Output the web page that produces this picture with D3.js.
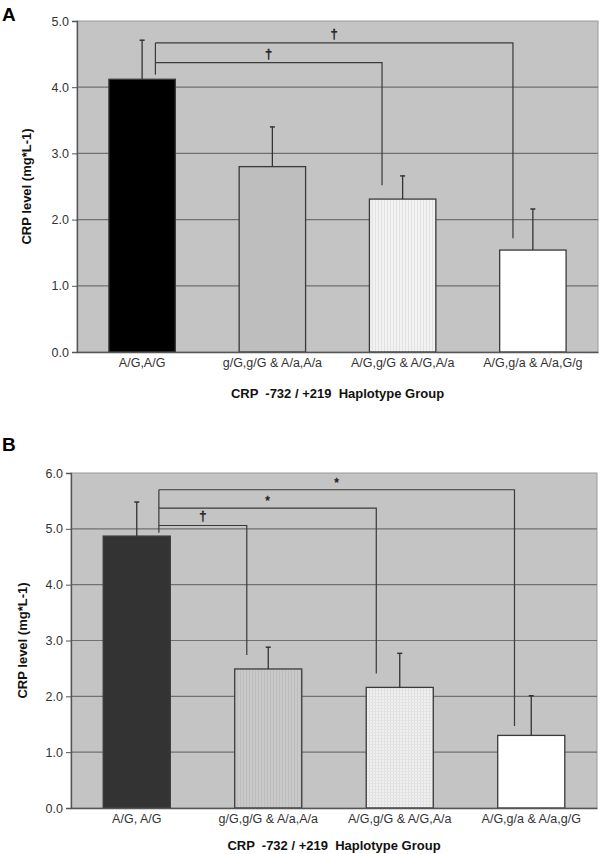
<!DOCTYPE html>
<html><head><meta charset="utf-8">
<script src="https://cdn.jsdelivr.net/npm/d3@7"></script>
<style>body{margin:0;background:#fff}svg{display:block}text{font-family:"Liberation Sans",Arial,sans-serif;white-space:pre}.sym{opacity:0.99}</style>
</head><body>
<svg id="chart" width="600" height="854"></svg>
<script>
// ---------- data ----------
const categoriesA = ["A/G,A/G", "g/G,g/G & A/a,A/a", "A/G,g/G & A/G,A/a", "A/G,g/a & A/a,G/g"];
const meansA = [4.12, 2.80, 2.31, 1.54];
const errorsA = [0.59, 0.60, 0.35, 0.62];
const ticksA = [0, 1, 2, 3, 4, 5];
const bracketsA = [
  {to: 2, level: 4.37, drop: 2.52, sym: "†"},
  {to: 3, level: 4.67, drop: 1.72, sym: "†"}
];
const bracketStartA = 4.19;

const categoriesB = ["A/G, A/G", "g/G,g/G & A/a,A/a", "A/G,g/G & A/G,A/a", "A/G,g/a & A/a,g/G"];
const meansB = [4.87, 2.49, 2.16, 1.30];
const errorsB = [0.61, 0.39, 0.61, 0.71];
const ticksB = [0, 1, 2, 3, 4, 5, 6];
const bracketsB = [
  {to: 1, level: 5.06, drop: 2.74, sym: "†"},
  {to: 2, level: 5.37, drop: 2.41, sym: "*"},
  {to: 3, level: 5.70, drop: 1.47, sym: "*"}
];
const bracketStartB = 4.93;

const yTitle = "CRP level (mg*L-1)";
const xTitle = "CRP  -732 / +219  Haplotype Group";

// ---------- patterns ----------
const svg = d3.select("#chart");
const defs = svg.append("defs");
function stripes(id, bg, line, w) {
  const p = defs.append("pattern").attr("id", id).attr("patternUnits", "userSpaceOnUse")
    .attr("width", w).attr("height", 4);
  p.append("rect").attr("width", w).attr("height", 4).attr("fill", bg);
  p.append("rect").attr("width", 1).attr("height", 4).attr("fill", line);
}
stripes("stripeA3", "#f2f2f2", "#e2e2e2", 3);
stripes("stripeB2", "#c9c9c9", "#bdbdbd", 3);
(function(){
  const p = defs.append("pattern").attr("id", "gridB3").attr("patternUnits", "userSpaceOnUse")
    .attr("width", 3).attr("height", 3);
  p.append("rect").attr("width", 3).attr("height", 3).attr("fill", "#f0f0f0");
  p.append("rect").attr("width", 1).attr("height", 3).attr("fill", "#e0e0e0");
  p.append("rect").attr("width", 3).attr("height", 1).attr("fill", "#e4e4e4");
})();

const fillsA = ["#000000", "#bebebe", "url(#stripeA3)", "#ffffff"];
const fillsB = ["#333333", "url(#stripeB2)", "url(#gridB3)", "#ffffff"];
const barOffsA = [0.70, 0, 0.19, 0.20];
const barOffsB = [0.83, 0.18, 0.15, 0.25];

function panel(o) {
  const g = svg.append("g");
  const x = d3.scaleBand().domain(o.cats).range([o.left, o.right]).paddingInner(0.49).paddingOuter(0.245);
  const y = d3.scaleLinear().domain([0, d3.max(o.ticks)]).range([o.bottom, o.top]);

  g.append("rect").attr("x", o.left).attr("y", o.top).attr("width", o.right - o.left)
    .attr("height", o.bottom - o.top).attr("fill", "#c4c4c4").attr("stroke", "#9a9a9a");

  // gridlines
  g.selectAll(".grid").data(o.ticks.filter(t => t > 0 && t < d3.max(o.ticks))).join("line")
    .attr("x1", o.left).attr("x2", o.right).attr("y1", d => y(d)).attr("y2", d => y(d))
    .attr("stroke", "#707070").attr("stroke-width", 1.2);

  // bars
  g.selectAll(".bar").data(o.means).join("rect")
    .attr("x", (d, i) => x(o.cats[i])).attr("width", x.bandwidth())
    .attr("y", d => y(d)).attr("height", d => y(0) - y(d))
    .attr("fill", (d, i) => o.fills[i]).attr("stroke", "#3a3a3a").attr("stroke-width", 1.3);

  // error bars
  g.selectAll(".err").data(o.means).join("line")
    .attr("x1", (d, i) => x(o.cats[i]) + x.bandwidth() / 2).attr("x2", (d, i) => x(o.cats[i]) + x.bandwidth() / 2)
    .attr("y1", d => y(d)).attr("y2", (d, i) => y(d + o.errs[i]))
    .attr("stroke", "#333").attr("stroke-width", 1.3);
  g.selectAll(".cap").data(o.means).join("line")
    .attr("x1", (d, i) => x(o.cats[i]) + x.bandwidth() / 2 - 2.5).attr("x2", (d, i) => x(o.cats[i]) + x.bandwidth() / 2 + 2.5)
    .attr("y1", (d, i) => y(d + o.errs[i])).attr("y2", (d, i) => y(d + o.errs[i]))
    .attr("stroke", "#333").attr("stroke-width", 1.5);

  // brackets
  const bx = i => x(o.cats[i]) + x.bandwidth() * o.offs[i];
  const x0 = bx(0);
  const topLevel = d3.max(o.brackets, b => b.level);
  g.append("line").attr("x1", x0).attr("x2", x0).attr("y1", y(topLevel)).attr("y2", y(o.bStart))
    .attr("stroke", "#3a3a3a").attr("stroke-width", 1.2);
  o.brackets.forEach(b => {
    const x1 = bx(b.to);
    g.append("path").attr("d", `M${x0},${y(b.level)}H${x1}V${y(b.drop)}`)
      .attr("fill", "none").attr("stroke", "#3a3a3a").attr("stroke-width", 1.2);
    g.append("text").attr("class", "sym").attr("x", (x0 + x1) / 2).attr("y", y(b.level) - (b.sym === "*" ? 3 : 5))
      .attr("text-anchor", "middle").attr("font-size", b.sym === "*" ? 12 : 13)
      .attr("font-family", "DejaVu Sans, sans-serif")
      .attr("fill", "#1a1a1a").attr("stroke", "#1a1a1a").attr("stroke-width", 0.4).text(b.sym);
  });

  // axes
  const ya = d3.axisLeft(y).tickValues(o.ticks).tickFormat(d3.format(".1f")).tickSize(5).tickPadding(3);
  const yg = g.append("g").attr("transform", `translate(${o.left},0)`).call(ya);
  yg.select(".domain").attr("stroke", "#555").attr("stroke-width", 1.3);
  yg.selectAll(".tick line").attr("stroke", "#555");
  yg.selectAll(".tick text").attr("font-size", 12.5).attr("fill", "#333").attr("font-family", "Liberation Sans, Arial, sans-serif");

  const xa = d3.axisBottom(x).tickSize(0).tickPadding(6);
  const xg = g.append("g").attr("transform", `translate(0,${o.bottom})`).call(xa);
  xg.select(".domain").attr("stroke", "#555").attr("stroke-width", 1.3);
  xg.selectAll(".tick text").attr("font-size", 12.5).attr("fill", "#333").attr("font-family", "Liberation Sans, Arial, sans-serif");

  g.append("text").attr("x", (o.left + o.right) / 2).attr("y", o.xTitleY).attr("text-anchor", "middle")
    .attr("font-size", 13).attr("font-weight", "bold").attr("fill", "#111").text(xTitle);
  g.append("text").attr("transform", `translate(${o.yTitleX},${(o.top + o.bottom) / 2}) rotate(-90)`)
    .attr("text-anchor", "middle").attr("font-size", 13).attr("font-weight", "bold").attr("fill", "#111").text(yTitle);
  g.append("text").attr("x", 2).attr("y", o.letterY).attr("font-size", 19).attr("font-weight", "bold")
    .attr("fill", "#000").text(o.letter);
}

panel({cats: categoriesA, means: meansA, errs: errorsA, ticks: ticksA, brackets: bracketsA, bStart: bracketStartA,
  fills: fillsA, offs: barOffsA, left: 77, right: 598, top: 21, bottom: 352,
  xTitleY: 398, yTitleX: 31, letter: "A", letterY: 21});
panel({cats: categoriesB, means: meansB, errs: errorsB, ticks: ticksB, brackets: bracketsB, bStart: bracketStartB,
  fills: fillsB, offs: barOffsB, left: 71, right: 597, top: 473, bottom: 808,
  xTitleY: 850, yTitleX: 27, letter: "B", letterY: 451});
</script>
</body></html>
